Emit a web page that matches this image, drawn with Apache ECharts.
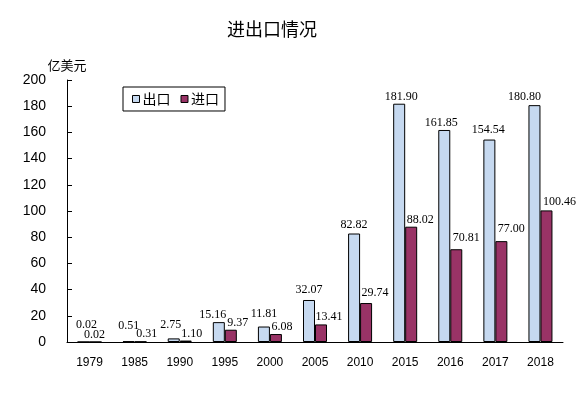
<!DOCTYPE html>
<html>
<head>
<meta charset="utf-8">
<script src="https://cdn.jsdelivr.net/npm/echarts@6/dist/echarts.min.js"></script>
<style>
html,body{margin:0;padding:0;background:#fff;}
#c{width:581px;height:394px;}
</style>
</head>
<body>
<div id="c"></div>
<script>
var categories = ['1979','1985','1990','1995','2000','2005','2010','2015','2016','2017','2018'];
var exportValues = [0.02, 0.51, 2.75, 15.16, 11.81, 32.07, 82.82, 181.90, 161.85, 154.54, 180.80];
var importValues = [0.02, 0.31, 1.10, 9.37, 6.08, 13.41, 29.74, 88.02, 70.81, 77.00, 100.46];
var yTicks = [0, 20, 40, 60, 80, 100, 120, 140, 160, 180, 200];

// label nudges (pixels) to mimic the manually placed labels of the original
var exportLabelOffsets = [[3,-10],[0,-8],[-3,-7],[-6,0],[0,-6],[0,-3],[0,-2],[2,0],[-3,0],[-1,-3],[-10,-1]];
var importLabelOffsets = [[-1,0],[6,0],[6,0],[7,0],[6,0],[8,-1],[9,-3],[9,0],[10,-4],[10,-5],[13,-2]];

function build(values, offsets){
  return values.map(function(v,i){ return {value:v, label:{offset:offsets[i]}}; });
}

var chart = echarts.init(document.getElementById('c'), null, {renderer:'canvas'});
var labelStyle = {
  show:true, position:'top', distance:1,
  fontFamily:'Liberation Serif', fontSize:12, color:'#000',
  formatter:function(p){ return Number(p.value).toFixed(2); }
};
chart.setOption({
  animation:false,
  backgroundColor:'#fff',
  title:{
    text:'进出口情况', left:227, top:20, padding:0,
    textStyle:{fontFamily:'Noto Sans CJK SC', fontSize:18, fontWeight:'normal', color:'#000'}
  },
  legend:{
    left:123, top:87, orient:'horizontal',
    padding:[5,6,5,9], itemGap:10, itemWidth:7, itemHeight:7,
    borderColor:'#000', borderWidth:1,
    icon:'rect',
    itemStyle:{borderColor:'#000', borderWidth:1},
    textStyle:{fontFamily:'Noto Sans CJK SC', fontSize:14, color:'#000', padding:[0,0,0,-2]},
    data:['出口','进口']
  },
  grid:{left:67, right:18, top:80, bottom:52, containLabel:false},
  xAxis:{
    type:'category', data:categories, boundaryGap:true,
    axisLine:{lineStyle:{color:'#000', width:1}},
    axisTick:{inside:true, length:4, lineStyle:{color:'#000'}},
    axisLabel:{fontFamily:'Liberation Sans', fontSize:12, color:'#000', margin:15, interval:0},
    splitLine:{show:false}
  },
  yAxis:{
    type:'value', min:yTicks[0], max:yTicks[yTicks.length-1], interval:yTicks[1]-yTicks[0],
    name:'亿美元', nameLocation:'end', nameGap:8,
    nameTextStyle:{fontFamily:'Noto Sans CJK SC', fontSize:13, color:'#000', align:'center'},
    axisLine:{show:true, lineStyle:{color:'#000', width:1}},
    axisTick:{show:true, inside:true, length:5, lineStyle:{color:'#000'}},
    axisLabel:{fontFamily:'Liberation Sans', fontSize:14, color:'#000', margin:21},
    splitLine:{show:false}
  },
  series:[
    {
      name:'出口', type:'bar', barWidth:12, barGap:'0%',
      itemStyle:{color:'#C6D9F0', borderColor:'#000', borderWidth:1},
      label:labelStyle,
      data:build(exportValues, exportLabelOffsets)
    },
    {
      name:'进口', type:'bar', barWidth:12, barGap:'0%',
      itemStyle:{color:'#993366', borderColor:'#000', borderWidth:1},
      label:labelStyle,
      data:build(importValues, importLabelOffsets)
    }
  ]
});
</script>
</body>
</html>
